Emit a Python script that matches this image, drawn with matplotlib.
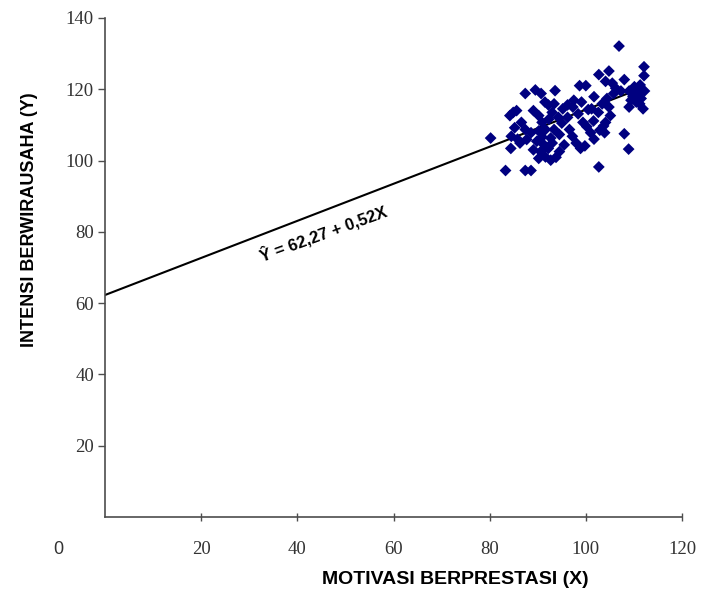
import matplotlib
matplotlib.use("Agg")
import matplotlib.pyplot as plt
from matplotlib import font_manager

# scatter values
motivasi = [106.9, 112.1, 112.1, 102.7, 104.8, 104.1, 105.5, 108.0, 98.7, 100.0,
            87.4, 89.5, 90.7, 93.6, 101.7, 105.8, 107.3, 109.0, 110.1, 111.3,
            112.2, 110.8, 109.8, 111.5, 110.5, 111.9, 109.0, 104.4, 103.4, 104.8,
            105.1, 102.6, 104.1, 101.6, 100.5, 99.1, 97.5, 96.2, 95.2, 93.4,
            92.2, 91.5, 93.0, 94.3, 92.3, 90.2, 90.9, 84.9, 85.6, 84.2,
            85.2, 84.5, 85.8, 84.4, 80.2, 83.3, 87.4, 88.6, 87.4, 88.6,
            87.7, 90.2, 91.6, 90.9, 89.8, 92.7, 89.1, 90.6, 91.6, 92.7,
            93.8, 92.2, 93.4, 94.5, 95.0, 96.6, 97.2, 95.5, 98.0, 98.9,
            99.8, 100.2, 101.0, 101.7, 102.9, 103.9, 103.7, 102.7, 108.0, 108.9,
            98.4, 97.3, 99.4, 96.2, 86.3, 86.6, 89.1, 111.2, 109.4, 106.2,
            101.2, 93.0, 94.5, 91.3, 90.2]
intensi = [132.1, 126.3, 123.8, 124.1, 125.1, 122.2, 121.7, 122.7, 121.0, 121.0,
           118.8, 119.8, 118.8, 119.6, 117.9, 118.8, 119.5, 119.5, 120.7, 121.2,
           119.5, 118.8, 117.9, 117.4, 116.4, 114.5, 115.0, 117.4, 115.9, 115.0,
           112.6, 113.5, 110.7, 111.1, 114.3, 116.4, 116.9, 115.6, 114.5, 115.9,
           115.6, 116.4, 113.5, 112.1, 111.6, 112.6, 110.7, 113.5, 114.0, 112.6,
           109.2, 106.8, 106.0, 103.4, 106.3, 97.2, 97.2, 97.2, 108.7, 107.8,
           105.9, 108.3, 108.7, 106.6, 105.4, 106.3, 103.0, 102.5, 101.0, 100.1,
           100.9, 103.4, 108.7, 107.3, 110.5, 108.7, 106.8, 104.4, 104.9, 103.4,
           104.1, 109.5, 107.8, 106.0, 108.5, 107.8, 109.7, 98.2, 107.5, 103.2,
           113.1, 115.0, 110.7, 112.1, 104.9, 110.7, 114.0, 115.9, 116.9, 120.3,
           114.5, 104.9, 102.5, 104.4, 100.6]

# regression line Y = 62,27 + 0,52X
a, b = 62.27, 0.52
x_line = [0, 111]
y_line = [a + b * v for v in x_line]

xticks = [20, 40, 60, 80, 100, 120]
yticks = [20, 40, 60, 80, 100, 120, 140]

names = {f.name for f in font_manager.fontManager.ttflist}
narrow = 'Liberation Sans Narrow' if 'Liberation Sans Narrow' in names else 'Liberation Sans'

fig = plt.figure(figsize=(7.02, 5.98), dpi=100)
ax = fig.add_axes([0.1496, 0.1355, 0.8219, 0.8345])

ax.plot(x_line, y_line, color='black', lw=1.5, zorder=2)
ax.scatter(motivasi, intensi, marker='D', s=36, color='#000080', edgecolors='none', zorder=3)

ax.set_xlim(0, 120)
ax.set_ylim(0, 140)
ax.set_xticks(xticks)
ax.set_yticks(yticks)

for s in ['top', 'right']:
    ax.spines[s].set_visible(False)
for s in ['left', 'bottom']:
    ax.spines[s].set_color('#4d4d4d')
    ax.spines[s].set_linewidth(1.2)

ax.tick_params(axis='x', direction='inout', length=6, width=1, color='#4d4d4d', pad=14,
               labelsize=13.5, labelcolor='#333333')
ax.tick_params(axis='y', direction='out', length=5, width=1, color='#4d4d4d', pad=3,
               labelsize=13.5, labelcolor='#333333')
for lbl in ax.get_xticklabels() + ax.get_yticklabels():
    lbl.set_family('Liberation Serif')

fig.text(58 / 702, 1 - 549 / 598, '0', ha='center', va='center', fontsize=13,
         family='Liberation Sans', color='#333333')

ax.set_xlabel('MOTIVASI BERPRESTASI (X)', fontsize=14, fontweight='bold', family=narrow)
ax.set_ylabel('INTENSI BERWIRAUSAHA (Y)', fontsize=13, fontweight='bold', family=narrow)
ax.xaxis.set_label_coords((455 - 105) / 577, -(571 - 517) / 499)
ax.yaxis.set_label_coords(-(105 - 38) / 577, (517 - 220) / 499)

ax.text(45.3, 79.5, 'Ŷ = 62,27 + 0,52X', rotation=20, ha='center', va='center',
        fontsize=12, fontweight='heavy', family=narrow, rotation_mode='anchor')

fig.savefig('out.png', dpi=100)
